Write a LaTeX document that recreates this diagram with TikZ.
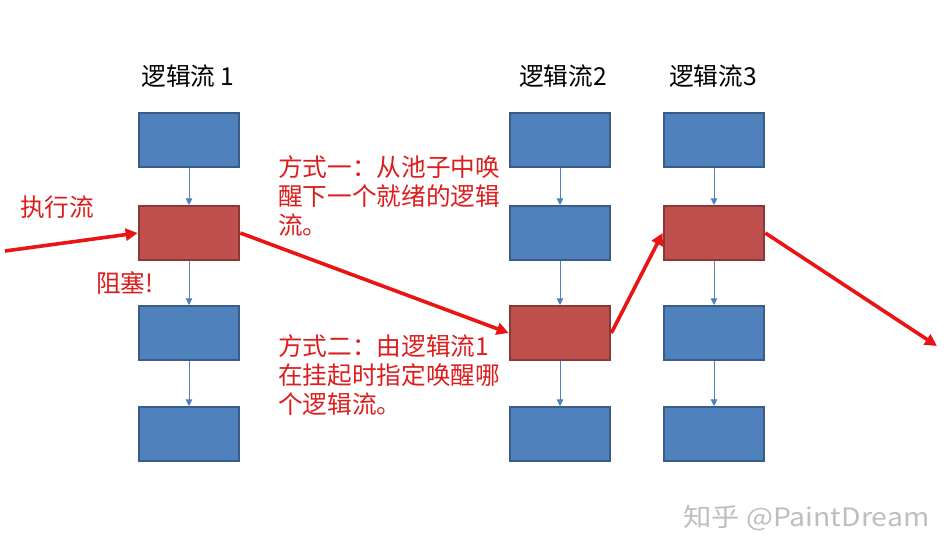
\documentclass[tikz,border=0pt]{standalone}
\usepackage{fontspec}
\setmainfont{Noto Sans CJK SC}
\newfontfamily\cjk{Noto Sans CJK SC}
\usetikzlibrary{arrows.meta}
\definecolor{boxblue}{RGB}{79,129,189}
\definecolor{edgeblue}{RGB}{56,93,138}
\definecolor{boxred}{RGB}{192,80,77}
\definecolor{edgered}{RGB}{140,56,54}
\definecolor{flowred}{RGB}{235,20,20}
\definecolor{textred}{RGB}{220,30,30}
\definecolor{wmgray}{RGB}{190,190,190}
\tikzset{
  bluebox/.style={draw=edgeblue, fill=boxblue, line width=1.5pt, minimum width=75.5pt, minimum height=40.5pt, inner sep=0pt},
  redbox/.style={draw=edgered, fill=boxred, line width=1.5pt, minimum width=75.5pt, minimum height=40.5pt, inner sep=0pt},
  thinarrow/.style={draw=boxblue, line width=0.7pt, -{Triangle[length=5pt,width=5pt]}},
  flow/.style={draw=flowred, line width=2.7pt, -{Triangle[length=9pt,width=9pt]}},
  title/.style={font=\cjk\fontsize{18.5pt}{22pt}\selectfont, text=black, inner sep=0pt},
  note/.style={font=\cjk\fontsize{18.5pt}{22pt}\selectfont, text=textred, inner sep=0pt, align=left},
}
\begin{document}
\begin{tikzpicture}[x=0.75pt, y=-0.75pt]
\useasboundingbox (0,0) rectangle (950,559);
\fill[white] (0,0) rectangle (950,559);
% column 1
\node[bluebox] (a1) at (189,140) {};
\node[redbox]  (a2) at (189,233) {};
\node[bluebox] (a3) at (189,333) {};
\node[bluebox] (a4) at (189,434) {};
% column 2
\node[bluebox] (b1) at (560,140) {};
\node[bluebox] (b2) at (560,233) {};
\node[redbox]  (b3) at (560,333) {};
\node[bluebox] (b4) at (560,434) {};
% column 3
\node[bluebox] (c1) at (714,140) {};
\node[redbox]  (c2) at (714,233) {};
\node[bluebox] (c3) at (714,333) {};
\node[bluebox] (c4) at (714,434) {};
% thin arrows
\foreach \p/\q in {a1/a2,a2/a3,a3/a4,b1/b2,b2/b3,b3/b4,c1/c2,c2/c3,c3/c4}
  \draw[thinarrow] (\p.south) -- (\q.north);
% titles
\node[title] (t1) at (188,76) {逻辑流 1};
\node[title] (t2) at (563,76) {逻辑流2};
\node[title] (t3) at (713,76) {逻辑流3};
% red flow
\coordinate (start) at (5,251);
\coordinate (finish) at (937,346);
\draw[flow] (start) -- (a2.west);
\draw[flow] (a2.east) -- (b3.west);
\draw[flow] (b3.east) -- (c2.west);
\draw[flow] (c2.east) -- (finish);
% notes
\node[note, anchor=west] (exec) at (20,207) {执行流};
\node[note, anchor=west] (block) at (96,283) {阻塞!};
\node[note, anchor=north west] (way1) at (278,155) {方式一：从池子中唤\\醒下一个就绪的逻辑\\流。};
\node[note, anchor=north west] (way2) at (278,334) {方式二：由逻辑流1\\在挂起时指定唤醒哪\\个逻辑流。};
% watermark
\node[font=\cjk\fontsize{19pt}{22pt}\selectfont, text=wmgray, anchor=west, inner sep=0pt, xscale=1.12] (wm) at (683,518) {知乎 @PaintDream};
\end{tikzpicture}
\end{document}
